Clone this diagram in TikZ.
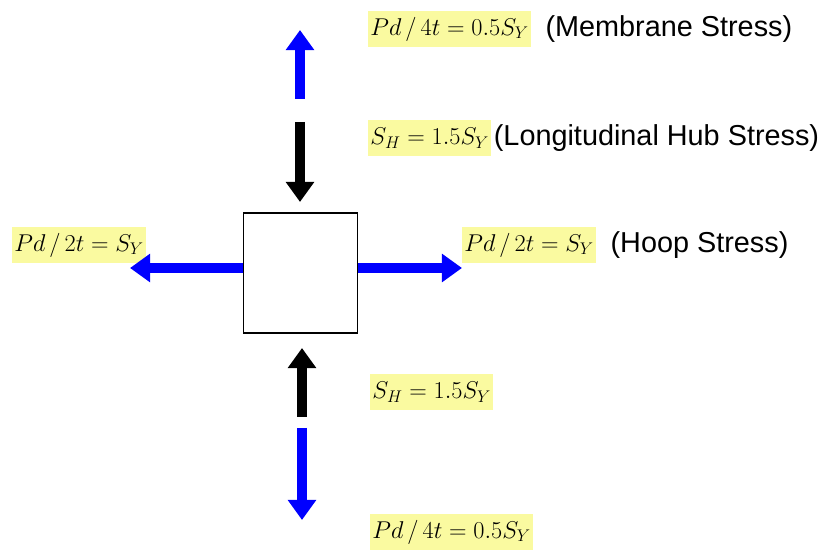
\documentclass[tikz,border=0pt]{standalone}
\usepackage{fontspec}
\setmainfont{Liberation Sans}
\usepackage{xcolor}
\definecolor{hlyellow}{RGB}{250,250,160}
\definecolor{arrblue}{RGB}{0,0,255}
\usetikzlibrary{arrows.meta,positioning}

\begin{document}
\begin{tikzpicture}[x=0.025cm,y=-0.025cm,
  hl/.style={fill=hlyellow,inner sep=1.5pt,minimum height=0.9cm,anchor=west,
    font=\fontsize{17.5}{21}\selectfont},
  txt/.style={inner sep=0pt,anchor=west,font=\fontsize{20.5}{24}\selectfont},
  farr/.style={line width=0.27cm,-{Triangle[length=0.5cm,width=0.68cm]}},
  sq/.style={draw,line width=0.8pt,minimum width=2.83cm,minimum height=3cm}
]
  \useasboundingbox (0,0) rectangle (838,551);
  % element under stress
  \node[sq] (elem) at (300.5,273) {};

  % labels
  \node[hl] (memtop) at (368,29) {$Pd\,/\,4t = 0.5S_Y$};
  \node[txt,right=0.35cm of memtop] (memtxt) {(Membrane Stress)};
  \node[hl] (hubtop) at (368,138) {$S_H = 1.5S_Y$};
  \node[txt,right=0.05cm of hubtop] (hubtxt) {(Longitudinal Hub Stress)};
  \node[hl] (hoopleft) at (12,245) {$Pd\,/\,2t = S_Y$};
  \node[hl] (hoopright) at (462,245) {$Pd\,/\,2t = S_Y$};
  \node[txt,right=0.35cm of hoopright] (hooptxt) {(Hoop Stress)};
  \node[hl] (hubbot) at (370,392) {$S_H = 1.5S_Y$};
  \node[hl] (membot) at (370,532) {$Pd\,/\,4t = 0.5S_Y$};

  % arrow ends
  \coordinate (mt0) at (300,99);  \coordinate (mt1) at (300,30);
  \coordinate (ht0) at (300,122); \coordinate (ht1) at (300,202);
  \coordinate (hb0) at (302,417); \coordinate (hb1) at (302,348);
  \coordinate (mb0) at (302,428); \coordinate (mb1) at (302,520);
  \coordinate (lt) at (130,268);  \coordinate (rt) at (462,268);

  \draw[farr,arrblue] (mt0) -- (mt1);
  \draw[farr,black] (ht0) -- (ht1);
  \draw[farr,black] (hb0) -- (hb1);
  \draw[farr,arrblue] (mb0) -- (mb1);
  \draw[farr,arrblue] (elem.west |- lt) -- (lt);
  \draw[farr,arrblue] (elem.east |- rt) -- (rt);
\end{tikzpicture}
\end{document}
